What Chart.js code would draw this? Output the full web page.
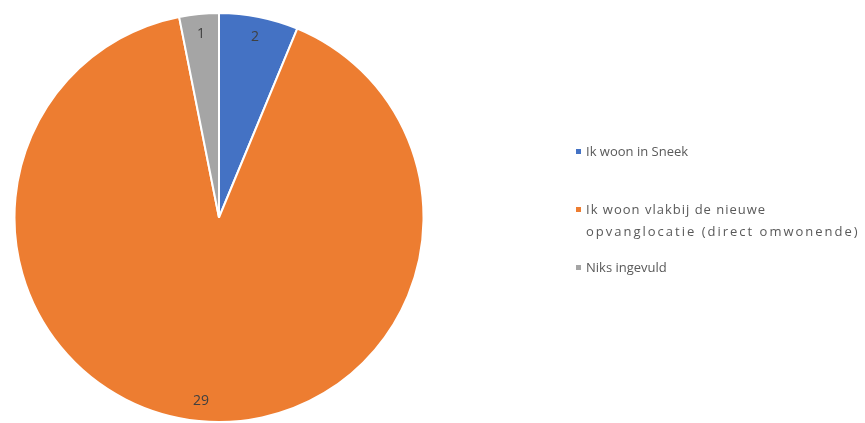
<!DOCTYPE html>
<html>
<head>
<meta charset="utf-8">
<script src="https://cdn.jsdelivr.net/npm/chart.js@4"></script>
<style>
  html, body { margin: 0; padding: 0; background: #fff; }
  #wrap { position: relative; width: 865px; height: 423px; }
  #legend {
    position: absolute; left: 576px; top: 0;
    font-family: "Open Sans", sans-serif; font-size: 13px; color: #595959;
  }
  .item { position: absolute; left: 0; white-space: nowrap; line-height: 22px; }
  .mark { position: absolute; left: 0; top: 9px; width: 5px; height: 5px; }
  .txt { position: absolute; left: 10px; top: 0; }
</style>
</head>
<body>
<div id="wrap">
  <canvas id="pie" width="865" height="423"></canvas>
  <div id="legend"></div>
</div>
<script>
// ===== DATA =====
const labels = [
    "Ik woon in Sneek",
    "Ik woon vlakbij de nieuwe opvanglocatie (direct omwonende)",
    "Niks ingevuld"
];
const legendLines = [
    ["Ik woon in Sneek"],
    ["Ik woon vlakbij de nieuwe", "opvanglocatie (direct omwonende)"],
    ["Niks ingevuld"]
];
const counts = [2, 29, 1];
const colors = ["#4472C4", "#ED7D31", "#A5A5A5"];

// ===== LEGEND (html) =====
const legendTops = [140, 198, 256];
const lineSpacing = [[0], [1, 2], [0]];
const legend = document.getElementById("legend");
legendLines.forEach((lines, i) => {
    const div = document.createElement("div");
    div.className = "item";
    div.style.top = legendTops[i] + "px";
    const mark = document.createElement("span");
    mark.className = "mark";
    mark.style.background = colors[i];
    const txt = document.createElement("span");
    txt.className = "txt";
    lines.forEach((line, j) => {
        const row = document.createElement("div");
        row.textContent = line;
        row.style.letterSpacing = lineSpacing[i][j] + "px";
        txt.appendChild(row);
    });
    div.appendChild(mark);
    div.appendChild(txt);
    legend.appendChild(div);
});

// ===== VALUE LABELS =====
const valueLabels = {
    id: "valueLabels",
    afterDatasetsDraw(chart) {
        const ctx = chart.ctx;
        const meta = chart.getDatasetMeta(0);
        ctx.save();
        ctx.font = "14px 'Open Sans', sans-serif";
        ctx.fillStyle = "#404040";
        ctx.textAlign = "center";
        ctx.textBaseline = "middle";
        meta.data.forEach((arc, i) => {
            const p = arc.getProps(["x", "y", "startAngle", "endAngle", "outerRadius"], true);
            const mid = (p.startAngle + p.endAngle) / 2;
            const r = p.outerRadius * 0.9;
            ctx.fillText(counts[i], p.x + Math.cos(mid) * r, p.y + Math.sin(mid) * r);
        });
        ctx.restore();
    }
};

// ===== PIE =====
new Chart(document.getElementById("pie"), {
    type: "pie",
    data: {
        labels: labels,
        datasets: [{
            data: counts,
            backgroundColor: colors,
            borderColor: "#ffffff",
            borderWidth: 2
        }]
    },
    options: {
        responsive: false,
        animation: false,
        layout: { padding: { left: 13, right: 440, top: 12, bottom: 0 } },
        plugins: {
            legend: { display: false },
            tooltip: { enabled: false }
        }
    },
    plugins: [valueLabels]
});
</script>
</body>
</html>
